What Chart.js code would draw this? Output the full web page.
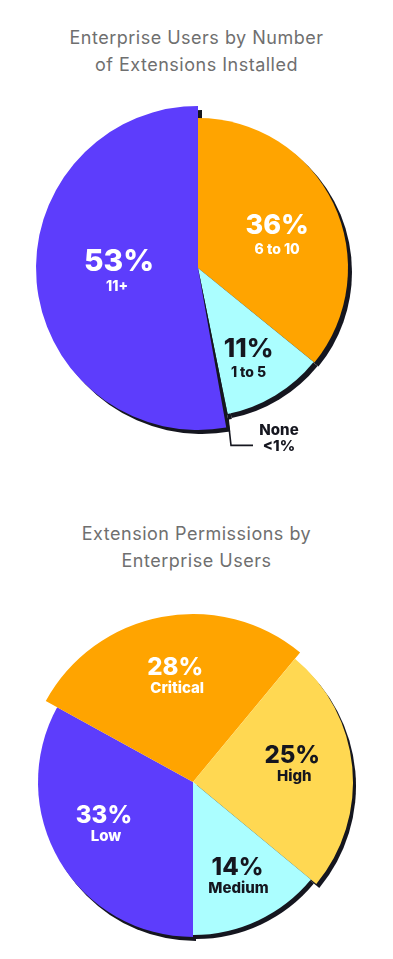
<!DOCTYPE html>
<html>
<head>
<meta charset="utf-8">
<script src="https://cdn.jsdelivr.net/npm/chart.js@4.4.0/dist/chart.umd.min.js"></script>
<style>
html, body { margin: 0; padding: 0; background: #fff; width: 393px; height: 959px; overflow: hidden; }
.title { position: absolute; left: 0; width: 393px; text-align: center; font-family: Inter, sans-serif; font-size: 18px; letter-spacing: 0.5px; line-height: 27px; color: #6f6f6f; }
.box { position: absolute; left: 0; width: 393px; }
</style>
</head>
<body>
<div class="title" style="top:24px">Enterprise Users by Number<br>of Extensions Installed</div>
<div class="box" style="top:90px;height:370px"><canvas id="c1"></canvas></div>
<div class="title" style="top:520px">Extension Permissions by<br>Enterprise Users</div>
<div class="box" style="top:605px;height:354px"><canvas id="c2"></canvas></div>
<script>
// top chart: number of extensions installed
var installCats = ['6 to 10', '1 to 5', 'None', '11+'];
var installShares = [36, 11, 0.4, 53];
var installPct = ['36%', '11%', '<1%', '53%'];

// bottom chart: permissions
var permCats = ['Low', 'Critical', 'High', 'Medium'];
var permShares = [33, 28, 25, 14];
var permPct = ['33%', '28%', '25%', '14%'];

var PURPLE = '#5d3dfc', ORANGE = '#ffa400', CYAN = '#abfeff', YELLOW = '#ffd852', INK = '#15161f';

// per-slice radius, drop shadow and labels
var piePaint = {
    id: 'piePaint',
    afterDatasetsUpdate: function(chart, args, o) {
        chart.getDatasetMeta(0).data.forEach(function(arc, i) {
            arc.outerRadius = o.radii[i];
        });
    },
    beforeDatasetsDraw: function(chart, args, o) {
        var ctx = chart.ctx;
        ctx.save();
        ctx.fillStyle = INK;
        chart.getDatasetMeta(0).data.forEach(function(arc, i) {
            if (o.shadow && !o.shadow[i]) return;
            ctx.beginPath();
            ctx.moveTo(arc.x + o.dx, arc.y + o.dy);
            ctx.arc(arc.x + o.dx, arc.y + o.dy, arc.outerRadius, arc.startAngle, arc.endAngle);
            ctx.closePath();
            ctx.fill();
        });
        ctx.restore();
    },
    afterDatasetsDraw: function(chart, args, o) {
        var ctx = chart.ctx;
        var cats = chart.data.labels;
        ctx.save();
        ctx.textAlign = 'center';
        ctx.textBaseline = 'alphabetic';
        chart.getDatasetMeta(0).data.forEach(function(arc, i) {
            var t = o.text[i];
            var mid = (arc.startAngle + arc.endAngle) / 2;
            if (t.callout) {
                var x0 = arc.x + Math.cos(mid) * arc.outerRadius;
                var y0 = arc.y + Math.sin(mid) * arc.outerRadius;
                ctx.strokeStyle = INK;
                ctx.lineWidth = 1.6;
                ctx.beginPath();
                ctx.moveTo(x0 + 2, y0 + 3);
                ctx.lineTo(x0 + 5, y0 + 30);
                ctx.lineTo(x0 + 27, y0 + 30);
                ctx.stroke();
                ctx.fillStyle = INK;
                ctx.font = '800 15px Inter, sans-serif';
                ctx.fillText(cats[i], x0 + 53, y0 + 20);
                ctx.fillText(o.pct[i], x0 + 53, y0 + 36);
                return;
            }
            var a = mid + t.nudge * Math.PI / 180;
            var x = arc.x + Math.cos(a) * t.dist;
            var y = arc.y + Math.sin(a) * t.dist;
            ctx.fillStyle = t.color;
            ctx.font = '800 ' + t.size + 'px Inter, sans-serif';
            ctx.fillText(o.pct[i], x, y);
            ctx.font = '800 ' + o.subSize + 'px Inter, sans-serif';
            ctx.fillText(cats[i], x + (t.subDx || 0), y + o.subGap);
        });
        ctx.restore();
    }
};

new Chart(document.getElementById('c1'), {
    type: 'pie',
    plugins: [piePaint],
    data: {
        labels: installCats,
        datasets: [{
            data: installShares,
            backgroundColor: [ORANGE, CYAN, INK, PURPLE],
            borderWidth: 0,
            radius: 150
        }]
    },
    options: {
        responsive: true,
        maintainAspectRatio: false,
        animation: false,
        rotation: 0,
        layout: { padding: { left: 3, bottom: 14 } },
        plugins: {
            legend: { display: false },
            tooltip: { enabled: false },
            piePaint: {
                radii: [150, 149, 150, 162],
                dx: 4, dy: 4,
                pct: installPct,
                subSize: 14, subGap: 20,
                text: [
                    { dist: 86, nudge: 2.5, size: 27, color: '#fff' },
                    { dist: 102, nudge: 1.5, size: 26, color: INK },
                    { callout: true },
                    { dist: 79, nudge: 2.5, size: 30, color: '#fff', subDx: -2 }
                ]
            }
        }
    }
});

new Chart(document.getElementById('c2'), {
    type: 'pie',
    plugins: [piePaint],
    data: {
        labels: permCats,
        datasets: [{
            data: permShares,
            backgroundColor: [PURPLE, ORANGE, YELLOW, CYAN],
            borderWidth: 0,
            radius: 155
        }]
    },
    options: {
        responsive: true,
        maintainAspectRatio: false,
        animation: false,
        rotation: 180,
        layout: { padding: { right: 7 } },
        plugins: {
            legend: { display: false },
            tooltip: { enabled: false },
            piePaint: {
                radii: [155, 168, 160, 153],
                shadow: [true, false, true, true],
                dx: 3, dy: 4,
                pct: permPct,
                subSize: 15, subGap: 18,
                text: [
                    { dist: 98, nudge: 5.9, size: 24, color: '#fff', subDx: 2 },
                    { dist: 108, nudge: 1.3, size: 24, color: '#fff', subDx: 2 },
                    { dist: 101, nudge: -5.4, size: 24, color: INK, subDx: 2 },
                    { dist: 103, nudge: -0.4, size: 24, color: INK, subDx: 1 }
                ]
            }
        }
    }
});
</script>
</body>
</html>
